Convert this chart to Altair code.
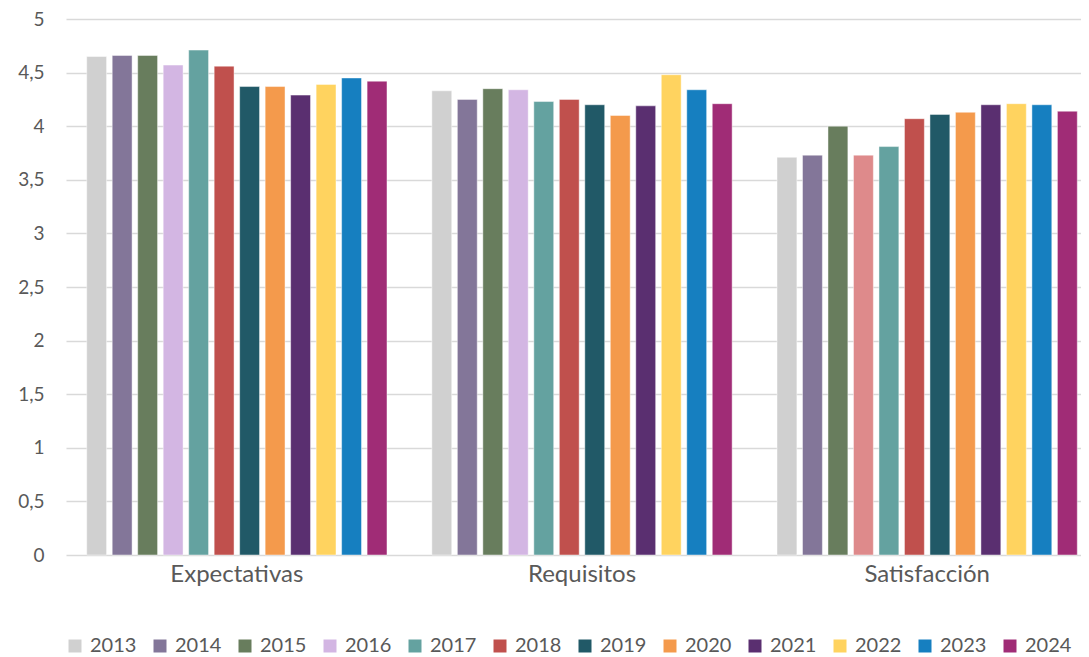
import altair as alt
import pandas as pd

categories = ["Expectativas", "Requisitos", "Satisfacción"]
years = ["2013", "2014", "2015", "2016", "2017", "2018",
         "2019", "2020", "2021", "2022", "2023", "2024"]
expectativas = [4.65, 4.66, 4.66, 4.57, 4.71, 4.56, 4.37, 4.37, 4.29, 4.39, 4.45, 4.42]
requisitos = [4.33, 4.25, 4.35, 4.34, 4.23, 4.25, 4.20, 4.10, 4.19, 4.48, 4.34, 4.21]
satisfaccion = [3.71, 3.73, 4.00, 3.73, 3.81, 4.07, 4.11, 4.13, 4.20, 4.21, 4.20, 4.14]
colors = ["#D0D0D0", "#837699", "#687D5D", "#D3B6E3", "#64A2A0", "#C0504D",
          "#215967", "#F49A4C", "#5A2F70", "#FFD35F", "#167FC0", "#A02C76"]
special_key = "2016 "
special_color = "#DE8A8B"

rows = []
for cat, vals in zip(categories, [expectativas, requisitos, satisfaccion]):
    for y, v in zip(years, vals):
        key = y
        if cat == "Satisfacción" and y == "2016":
            key = special_key
        rows.append({"cat": cat, "year": y, "value": v, "ckey": key})
df = pd.DataFrame(rows)

font = "Lato"
txt = "#595959"

chart = alt.Chart(df).mark_bar(
    stroke="white", strokeOpacity=0.45, strokeWidth=1
).encode(
    x=alt.X("cat:N", sort=categories, title=None,
            scale=alt.Scale(range=[0, 1032], paddingInner=0.13, paddingOuter=0.06),
            axis=alt.Axis(labelAngle=0, tickSize=0, domain=False, labelPadding=7,
                          labelFontSize=24, labelFont=font, labelColor=txt)),
    xOffset=alt.XOffset("year:N", sort=years,
                        scale=alt.Scale(paddingInner=0.22, paddingOuter=0)),
    y=alt.Y("value:Q", title=None,
            scale=alt.Scale(domain=[0, 5], nice=False),
            axis=alt.Axis(values=[0, 0.5, 1, 1.5, 2, 2.5, 3, 3.5, 4, 4.5, 5],
                          labelExpr="replace(toString(datum.value), '.', ',')",
                          tickSize=0, domain=False, labelPadding=22,
                          labelFontSize=19, labelFont=font, labelColor=txt,
                          gridColor="#D9D9D9", gridWidth=1.5)),
    color=alt.Color("ckey:N",
                    scale=alt.Scale(domain=years + [special_key],
                                    range=colors + [special_color]),
                    legend=alt.Legend(title=None, values=years, orient="none",
                                      legendX=-1, legendY=617, direction="horizontal",
                                      columns=12, symbolType="square", symbolSize=169,
                                      symbolStrokeWidth=0, labelFontSize=20,
                                      labelFont=font, labelColor=txt, labelOffset=5,
                                      columnPadding=13, labelLimit=200)),
).properties(
    width=1015, height=536,
    autosize=alt.AutoSizeParams(type="none"),
    padding={"left": 58, "top": 11, "right": 0, "bottom": 102},
).configure_view(stroke=None)

chart.save("out.html", embed_options={"renderer": "svg", "actions": False})
